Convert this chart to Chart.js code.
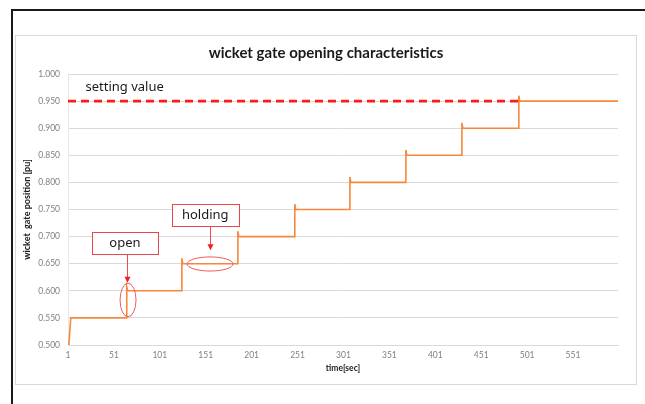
<!DOCTYPE html>
<html>
<head>
<meta charset="utf-8">
<script src="https://cdn.jsdelivr.net/npm/chart.js@4.4.1/dist/chart.umd.min.js"></script>
<style>
    body { margin: 0; background: #fff; }
    #frame { position: absolute; left: 11px; top: 9px; width: 640px; height: 400px; border-top: 2px solid #1a1a1a; border-left: 2px solid #1a1a1a; }
    #box { position: absolute; left: 15px; top: 35px; width: 620px; height: 348px; border: 1px solid #d9d9d9; }
    #gateChart { position: absolute; left: 0; top: 0; }
</style>
</head>
<body>
<div id="frame"></div>
<div id="box"></div>
<canvas id="gateChart" width="645" height="404"></canvas>
<script>
// gate position readings (time in sec, position in pu)
const timeSec = [1, 2, 4, 65, 65, 66, 125, 125, 126, 186, 186, 187, 248, 248, 249, 308, 308, 309, 369, 369, 370, 430, 430, 431, 492, 492, 493, 600];
const gatePos = [0.500, 0.502, 0.550, 0.550, 0.607, 0.600, 0.600, 0.660, 0.650, 0.650, 0.710, 0.700, 0.700, 0.760, 0.750, 0.750, 0.810, 0.800, 0.800, 0.860, 0.850, 0.850, 0.910, 0.900, 0.900, 0.960, 0.950, 0.950];

const settingTime = [1, 492];
const settingValue = [0.950, 0.950];

const xTickLabels = [1, 51, 101, 151, 201, 251, 301, 351, 401, 451, 501, 551];

const chartTitle = 'wicket gate opening characteristics';

// callouts, placed in data units
const callouts = {
    label: { text: 'setting value', t: 20, v: 0.976 },
    boxes: [
        { text: 'open', t0: 27, t1: 99, v0: 0.668, v1: 0.709 },
        { text: 'holding', t0: 114, t1: 187, v0: 0.7195, v1: 0.760 }
    ],
    arrows: [
        { t: 65.3, v0: 0.668, v1: 0.615 },
        { t: 155.7, v0: 0.7195, v1: 0.675 }
    ],
    ellipses: [
        { t: 66.4, v: 0.583, rt: 8.7, rv: 0.031 },
        { t: 155.7, v: 0.6495, rt: 25, rv: 0.013 }
    ]
};

const calloutPlugin = {
    id: 'callouts',
    afterDraw(chart) {
        const ctx = chart.ctx;
        const x = chart.scales.x;
        const y = chart.scales.y;
        ctx.save();

        ctx.fillStyle = '#1a1a1a';
        ctx.font = 'bold 15px Lato';
        ctx.textAlign = 'center';
        ctx.textBaseline = 'middle';
        ctx.fillText(chartTitle, 326, 53);

        ctx.font = '13px "Noto Sans"';
        ctx.textAlign = 'left';
        ctx.fillText(callouts.label.text, x.getPixelForValue(callouts.label.t), y.getPixelForValue(callouts.label.v));

        callouts.boxes.forEach(b => {
            const l = x.getPixelForValue(b.t0), r = x.getPixelForValue(b.t1);
            const t = y.getPixelForValue(b.v1), btm = y.getPixelForValue(b.v0);
            ctx.fillStyle = '#fff';
            ctx.fillRect(l, t, r - l, btm - t);
            ctx.strokeStyle = '#e8474a';
            ctx.lineWidth = 1;
            ctx.strokeRect(Math.round(l) + 0.5, Math.round(t) + 0.5, Math.round(r - l), Math.round(btm - t));
            ctx.fillStyle = '#1a1a1a';
            ctx.textAlign = 'center';
            ctx.fillText(b.text, (l + r) / 2, (t + btm) / 2);
        });

        callouts.arrows.forEach(a => {
            const px = Math.round(x.getPixelForValue(a.t)) + 0.5;
            const p0 = y.getPixelForValue(a.v0), p1 = y.getPixelForValue(a.v1);
            ctx.strokeStyle = '#ef4b4b';
            ctx.lineWidth = 1;
            ctx.beginPath();
            ctx.moveTo(px, p0);
            ctx.lineTo(px, p1 - 5);
            ctx.stroke();
            ctx.fillStyle = '#ef1f1f';
            ctx.beginPath();
            ctx.moveTo(px - 3, p1 - 6);
            ctx.lineTo(px + 3, p1 - 6);
            ctx.lineTo(px, p1);
            ctx.closePath();
            ctx.fill();
        });

        callouts.ellipses.forEach(e => {
            const cx = x.getPixelForValue(e.t), cy = y.getPixelForValue(e.v);
            const rx = Math.abs(x.getPixelForValue(e.t + e.rt) - cx);
            const ry = Math.abs(y.getPixelForValue(e.v + e.rv) - cy);
            ctx.strokeStyle = '#f05a5a';
            ctx.lineWidth = 1;
            ctx.beginPath();
            ctx.ellipse(cx, cy, rx, ry, 0, 0, Math.PI * 2);
            ctx.stroke();
        });

        ctx.restore();
    }
};

const ctxGate = document.getElementById('gateChart');

new Chart(ctxGate, {
    type: 'line',
    data: {
        datasets: [{
            label: 'gate position',
            data: timeSec.map((t, i) => ({ x: t, y: gatePos[i] })),
            borderColor: '#f7883b',
            borderWidth: 1.6,
            pointRadius: 0,
            tension: 0,
            order: 1
        }, {
            label: 'setting value',
            data: settingTime.map((t, i) => ({ x: t, y: settingValue[i] })),
            borderColor: '#ff1a1a',
            borderWidth: 2.6,
            borderDash: [8, 5],
            pointRadius: 0,
            order: 2
        }]
    },
    options: {
        responsive: false,
        animation: false,
        layout: {
            padding: { top: 74, left: 18, right: 27, bottom: 29 }
        },
        plugins: {
            legend: { display: false },
            tooltip: { enabled: false }
        },
        scales: {
            x: {
                type: 'linear',
                min: 1,
                max: 600,
                afterBuildTicks: axis => {
                    axis.ticks = xTickLabels.map(v => ({ value: v }));
                },
                afterFit: axis => {
                    axis.height = 30;
                },
                grid: { display: false, drawTicks: false },
                border: { color: '#d9d9d9' },
                ticks: {
                    color: '#808080',
                    font: { family: 'Lato', size: 8.5 },
                    padding: 5,
                    maxRotation: 0,
                    autoSkip: false
                },
                title: {
                    display: true,
                    text: 'time[sec]',
                    color: '#1a1a1a',
                    font: { family: 'Lato', size: 8.5, weight: 'bold' },
                    padding: { top: 0, bottom: 1.5 }
                }
            },
            y: {
                min: 0.5,
                max: 1.0,
                afterFit: axis => {
                    axis.width = 50;
                },
                grid: { color: '#d9d9d9', drawTicks: false },
                border: { display: true, color: '#e6e6e6' },
                ticks: {
                    stepSize: 0.05,
                    color: '#808080',
                    font: { family: 'Lato', size: 8.5 },
                    padding: 8,
                    callback: v => v.toFixed(3)
                },
                title: {
                    display: true,
                    text: 'wicket  gate position [pu]',
                    color: '#1a1a1a',
                    font: { family: 'Lato', size: 9, weight: 'bold' },
                    padding: { top: 3.5, bottom: 0 }
                }
            }
        }
    },
    plugins: [calloutPlugin]
});
</script>
</body>
</html>
